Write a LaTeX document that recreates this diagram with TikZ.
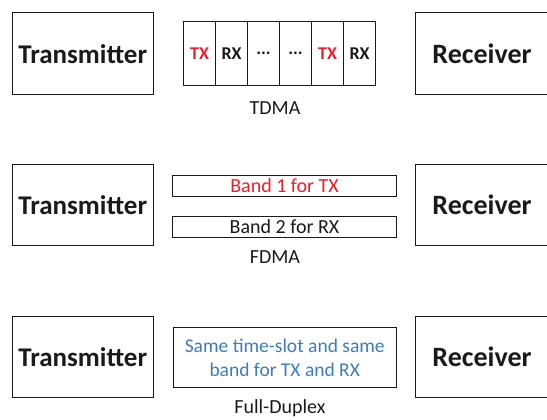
\documentclass[tikz,border=0pt]{standalone}
\usepackage{fontspec}
\setmainfont{Carlito}
\definecolor{txred}{HTML}{E8202A}
\definecolor{fdblue}{HTML}{3E7CC0}
\definecolor{ink}{HTML}{1A1A1A}
\begin{document}
\begin{tikzpicture}[x=1pt,y=-1pt,
  frame/.style={draw=ink, line width=1.1pt, inner sep=0pt, anchor=north west, text=ink},
  bigbox/.style={frame, minimum width=141pt, minimum height=82pt, font=\fontsize{27}{32}\selectfont\bfseries},
  rxbox/.style={frame, minimum width=133pt, minimum height=82pt, font=\fontsize{28}{32}\selectfont\bfseries},
  slot/.style={frame, minimum width=32pt, minimum height=64.3pt, font=\fontsize{18}{21}\selectfont\bfseries},
  band/.style={frame, minimum width=224pt, minimum height=21pt, font=\fontsize{20}{22}\selectfont},
  caption/.style={text=ink, inner sep=0pt, font=\fontsize{20}{23}\selectfont}]
\useasboundingbox (0,0) rectangle (547,420);
% Row 1: TDMA
\node[bigbox] (tx1) at (11.7,12.3) {Transmitter};
\node[rxbox] (rx1) at (415,12.3) {Receiver};
\node[slot, text=txred] (s1) at (183,20.7) {TX};
\node[slot] (s2) at (215,20.7) {RX};
\node[slot] (s3) at (247,20.7) {...};
\node[slot] (s4) at (279,20.7) {...};
\node[slot, text=txred] (s5) at (311,20.7) {TX};
\node[slot] (s6) at (343,20.7) {RX};
\node[caption] (tdma) at (275,108) {TDMA};
% Row 2: FDMA
\node[bigbox, minimum height=81pt] (tx2) at (11.7,164) {Transmitter};
\node[rxbox, minimum height=81pt] (rx2) at (415,164) {Receiver};
\node[band, text=txred] (b1) at (172,175) {Band 1 for TX};
\node[band] (b2) at (172,216) {Band 2 for RX};
\node[caption] (fdma) at (275,257) {FDMA};
% Row 3: Full-Duplex
\node[bigbox, minimum height=81.6pt] (tx3) at (11.7,315.7) {Transmitter};
\node[rxbox, minimum height=81.6pt] (rx3) at (415,315.7) {Receiver};
\node[frame, minimum width=223pt, minimum height=60.6pt, align=center, text=fdblue,
  font=\fontsize{19.5}{24}\selectfont] (fd) at (172.7,326.7) {Same time-slot and same\\band for TX and RX};
\node[caption] (fdl) at (280,408.5) {Full-Duplex};
\end{tikzpicture}
\end{document}
